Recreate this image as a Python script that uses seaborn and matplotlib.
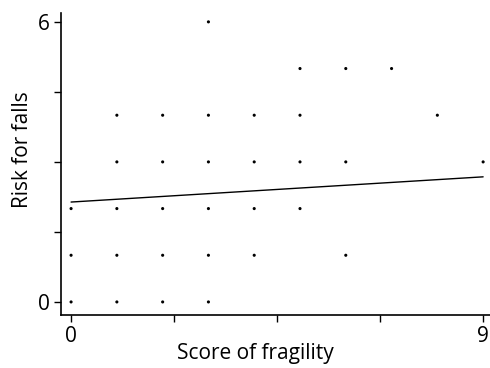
import matplotlib
matplotlib.use("Agg")
import matplotlib.pyplot as plt
import seaborn as sns
import pandas as pd

# Data (score of fragility vs risk for falls)
score_x = [3,
           5, 6, 7,
           1, 2, 3, 4, 5, 8,
           1, 2, 3, 4, 5, 6, 9,
           0, 1, 2, 3, 4, 5,
           0, 1, 2, 3, 4, 6,
           0, 1, 2, 3]
risk_y = [6,
          5, 5, 5,
          4, 4, 4, 4, 4, 4,
          3, 3, 3, 3, 3, 3, 3,
          2, 2, 2, 2, 2, 2,
          1, 1, 1, 1, 1, 1,
          0, 0, 0, 0]

# fitted line endpoints
fit_x = [0, 9]
fit_y = [2.14, 2.68]

x_ticks = [0, 2.25, 4.5, 6.75, 9]
x_ticklabels = ["0", "", "", "", "9"]
y_ticks = [0, 1.5, 3, 4.5, 6]
y_ticklabels = ["0", "", "", "", "6"]

sns.set_style("ticks")
plt.rcParams['font.family'] = ['Open Sans', 'DejaVu Sans']

fig = plt.figure(figsize=(4.9, 3.68), dpi=100)
ax = fig.add_axes([0.1245, 0.144, 0.8755, 0.8207])

df = pd.DataFrame({"x": score_x, "y": risk_y})
sns.scatterplot(data=df, x="x", y="y", ax=ax, color="black", s=5,
                marker="o", edgecolor="none", linewidth=0)
sns.lineplot(x=fit_x, y=fit_y, ax=ax, color="black", linewidth=1.0)

ax.set_xlim(-0.22, 9.15)
ax.set_ylim(-0.28, 6.19)
ax.set_xticks(x_ticks)
ax.set_xticklabels(x_ticklabels)
ax.set_yticks(y_ticks)
ax.set_yticklabels(y_ticklabels)
ax.tick_params(axis='both', direction='out', length=5, width=1.0,
               color='black', labelsize=15, labelcolor='black', pad=3)
for side in ["top", "right"]:
    ax.spines[side].set_visible(False)
for side in ["left", "bottom"]:
    ax.spines[side].set_color("black")
    ax.spines[side].set_linewidth(1.2)

ax.set_xlabel("Score of fragility", fontsize=15, color="black")
ax.set_ylabel("Risk for falls", fontsize=15, color="black")
ax.xaxis.set_label_coords(0.452, -0.092)
ax.yaxis.set_label_coords(-0.066, 0.546)

fig.savefig("out.png", dpi=100)
